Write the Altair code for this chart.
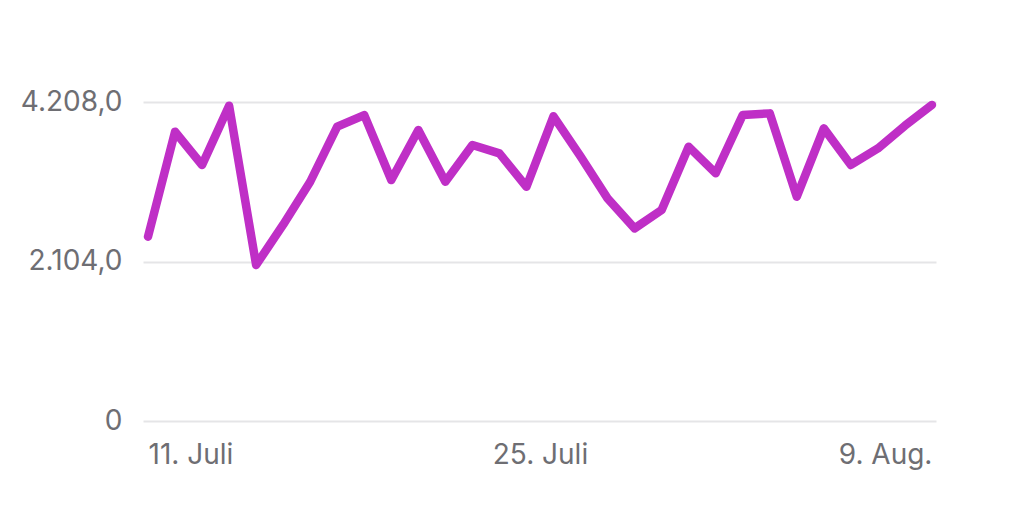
import json
import altair as alt
import pandas as pd

dates = [f"{d}. Juli" for d in range(11, 32)] + [f"{d}. Aug." for d in range(1, 10)]
values = [2431, 3816, 3377, 4160, 2058, 2590, 3156, 3882, 4036, 3179,
          3838, 3156, 3640, 3531, 3090, 4020, 3491, 2937, 2541, 2783,
          3618, 3267, 4036, 4058, 2959, 3860, 3377, 3596, 3895, 4170]

x_tick_values = [0, 14.5, 29]
x_tick_labels = ["11. Juli", "25. Juli", "9. Aug."]
y_tick_values = [0, 2104, 4208]
y_tick_labels = ["0", "2.104,0", "4.208,0"]

df = pd.DataFrame({"day": list(range(len(values))), "date": dates, "value": values})

x_expr = f"{json.dumps(x_tick_labels)}[indexof({json.dumps(x_tick_values)}, datum.value)]"
y_expr = f"{json.dumps(y_tick_labels)}[indexof({json.dumps(y_tick_values)}, datum.value)]"

FONT = "Inter"
LABEL_COLOR = "#6e6e73"

chart = alt.Chart(df).mark_line(
    color="#bf2fc6", strokeWidth=8.5, strokeCap="round", strokeJoin="round"
).encode(
    x=alt.X("day:Q",
            scale=alt.Scale(domain=[-0.185, 29.15], nice=False, zero=False),
            axis=alt.Axis(values=x_tick_values, labelExpr=x_expr, title=None,
                          grid=False, domain=False, ticks=False,
                          labelFlush=8, labelPadding=20, labelFontSize=28,
                          labelFont=FONT, labelColor=LABEL_COLOR)),
    y=alt.Y("value:Q",
            scale=alt.Scale(domain=[0, 4208], nice=False),
            axis=alt.Axis(values=y_tick_values, labelExpr=y_expr, title=None,
                          grid=True, gridColor="#e5e5e7", gridWidth=2,
                          domain=False, ticks=False, labelPadding=21,
                          labelFontSize=28, labelFont=FONT, labelColor=LABEL_COLOR)),
).properties(
    width=793, height=319,
    autosize=alt.AutoSizeParams(type="none"),
    padding={"left": 135, "top": 94, "right": 80, "bottom": 90},
).configure_view(stroke=None)

chart.save("out.html", embed_options={"renderer": "svg", "actions": False})
